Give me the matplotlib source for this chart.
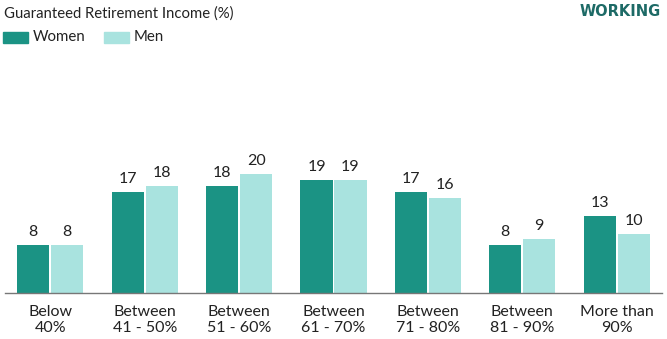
import matplotlib
matplotlib.use("Agg")
import matplotlib.pyplot as plt
from matplotlib.patches import Rectangle
import numpy as np

categories = ["Below\n40%", "Between\n41 - 50%", "Between\n51 - 60%", "Between\n61 - 70%",
              "Between\n71 - 80%", "Between\n81 - 90%", "More than\n90%"]
women = [8, 17, 18, 19, 17, 8, 13]
men = [8, 18, 20, 19, 16, 9, 10]

WOMEN_C = "#1b9384"
MEN_C = "#a9e3df"
TEAL_DARK = "#1d6a66"
TXT = "#222222"

plt.rcParams["font.family"] = ["Lato", "DejaVu Sans"]

W, H = 667, 339
fig = plt.figure(figsize=(W / 100, H / 100), dpi=100)
ax = fig.add_axes([5 / W, 46 / H, 657 / W, 233 / H])

x = np.arange(len(categories))
bw = 0.34
off = 0.18
ax.bar(x - off, women, bw, color=WOMEN_C)
ax.bar(x + off, men, bw, color=MEN_C)

for xi, v in zip(x - off, women):
    ax.text(xi, v + 1.0, str(v), ha="center", va="bottom", fontsize=11.5, color=TXT)
for xi, v in zip(x + off, men):
    ax.text(xi, v + 1.0, str(v), ha="center", va="bottom", fontsize=11.5, color=TXT)

ax.set_xlim(-0.48, 6.48)
ax.set_ylim(0, 233 / 5.95)
ax.set_xticks(x)
ax.set_xticklabels(categories, fontsize=11.5, color=TXT, linespacing=1.1)
ax.tick_params(axis="x", length=0, pad=9)
ax.set_yticks([])
for s in ["top", "right", "left"]:
    ax.spines[s].set_visible(False)
ax.spines["bottom"].set_color("#777777")
ax.spines["bottom"].set_linewidth(1.0)

fig.text(4 / W, 1 - 14 / H, "Guaranteed Retirement Income (%)", fontsize=10.7,
         color=TXT, va="center", ha="left")
fig.text(661 / W, 1 - 12 / H, "WORKING", fontsize=10.5, fontweight="bold",
         color=TEAL_DARK, va="center", ha="right", family="DejaVu Sans")

# legend swatches
for px, label, c in [(3, "Women", WOMEN_C), (104, "Men", MEN_C)]:
    fig.patches.append(Rectangle((px / W, 1 - 43 / H), 25 / W, 11 / H,
                                 transform=fig.transFigure, color=c))
    fig.text((px + 30) / W, 1 - 37 / H, label, fontsize=10.8, color=TXT,
             va="center", ha="left")

fig.savefig("out.png", dpi=100)
